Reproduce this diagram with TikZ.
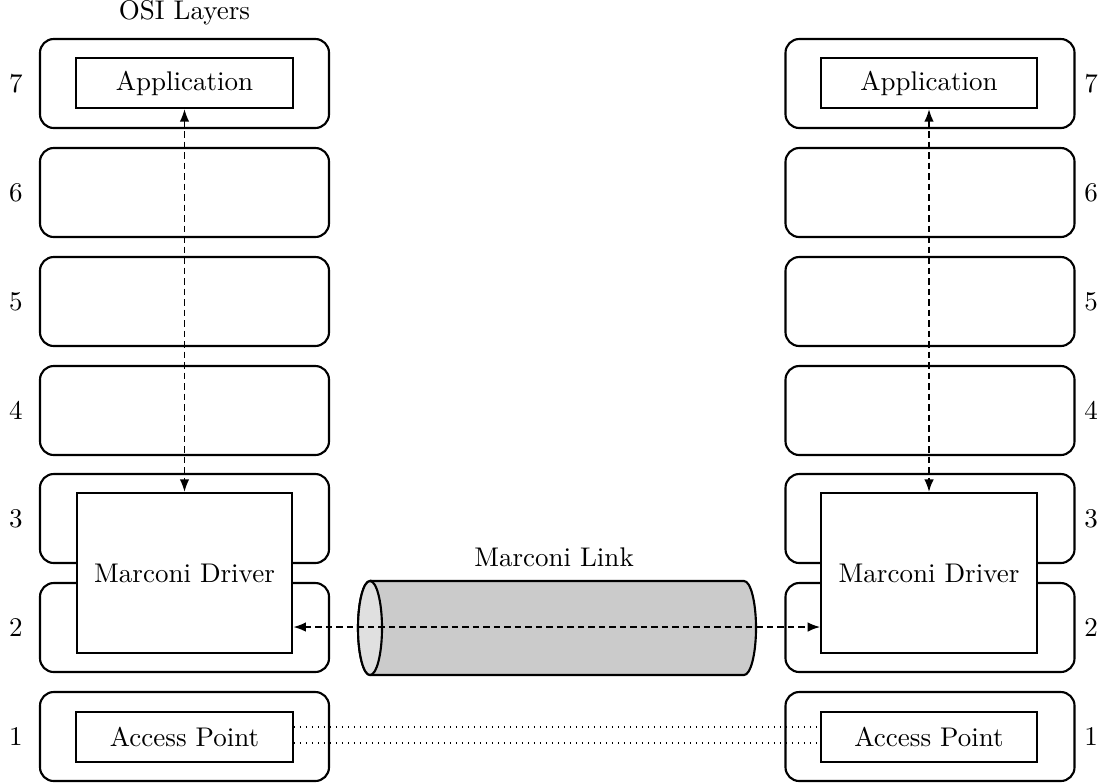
\documentclass[tikz,border=0pt]{standalone}
\usetikzlibrary{arrows.meta}
\definecolor{cylbody}{HTML}{CBCBCB}
\definecolor{cylface}{HTML}{E0E0E0}
\begin{document}
\begin{tikzpicture}[x=0.4pt,y=-0.4pt,
  every node/.style={font=\fontsize{10.8}{12}\selectfont},
  layer/.style={draw, line width=0.85pt, rounded corners=5.5pt,
    minimum width=115.6pt, minimum height=35.6pt, inner sep=0pt},
  inner/.style={draw, fill=white, line width=0.85pt,
    minimum width=86.6pt, minimum height=20pt, inner sep=0pt},
  driver/.style={draw, fill=white, line width=0.85pt,
    minimum width=86.2pt, minimum height=64pt, inner sep=0pt},
  num/.style={inner sep=0pt},
  link/.style={line width=0.7pt, dash pattern=on 2.6pt off 1.6pt,
    {Latex[length=5pt,width=3.8pt]}-{Latex[length=5pt,width=3.8pt]}},
  wire/.style={line width=0.55pt, dash pattern=on 0.45pt off 1.95pt}
]
\useasboundingbox (0,0) rectangle (1103,782);

% the seven layers on each side, numbered on the outside
\foreach \n/\y in {7/83.5,6/192.5,5/301.5,4/410.5,3/518.5,2/627.5,1/736.5}{
  \node[layer] (L\n) at (184.5,\y) {};
  \node[layer] (R\n) at (930,\y) {};
  \node[num] (nl\n) at (16,\y) {\n};
  \node[num] (nr\n) at (1091,\y) {\n};
}

\node (osi) at (184.5,13) {OSI Layers};

% components inside the layers
\node[inner] (LA) at (184.5,83) {Application};
\node[inner] (RA) at (929,83) {Application};
\node[driver] (LD) at (184.5,573) {Marconi Driver};
\node[driver] (RD) at (929,573) {Marconi Driver};
\node[inner] (LP) at (184.5,737) {Access Point};
\node[inner] (RP) at (929,737) {Access Point};

% the link cylinder
\filldraw[fill=cylbody, line width=0.85pt]
  (370,581) -- (744,581)
  arc[start angle=90, end angle=-90, x radius=4.8pt, y radius=18.8pt]
  -- (370,675)
  arc[start angle=270, end angle=90, x radius=4.8pt, y radius=18.8pt]
  -- cycle;
\filldraw[fill=cylface, line width=0.85pt] (370,628) ellipse [x radius=4.8pt, y radius=18.8pt];
\node (mlink) at (554,557) {Marconi Link};

% connectors
\draw[link] (LA.south) -- (LD.north);
\draw[link] (RA.south) -- (RD.north);
\draw[link] ([yshift=-21.6pt]LD.east) -- ([yshift=-21.6pt]RD.west);
\draw[wire] ([yshift=4pt]LP.east) -- ([yshift=4pt]RP.west);
\draw[wire] ([yshift=-2.4pt]LP.east) -- ([yshift=-2.4pt]RP.west);
\end{tikzpicture}
\end{document}
